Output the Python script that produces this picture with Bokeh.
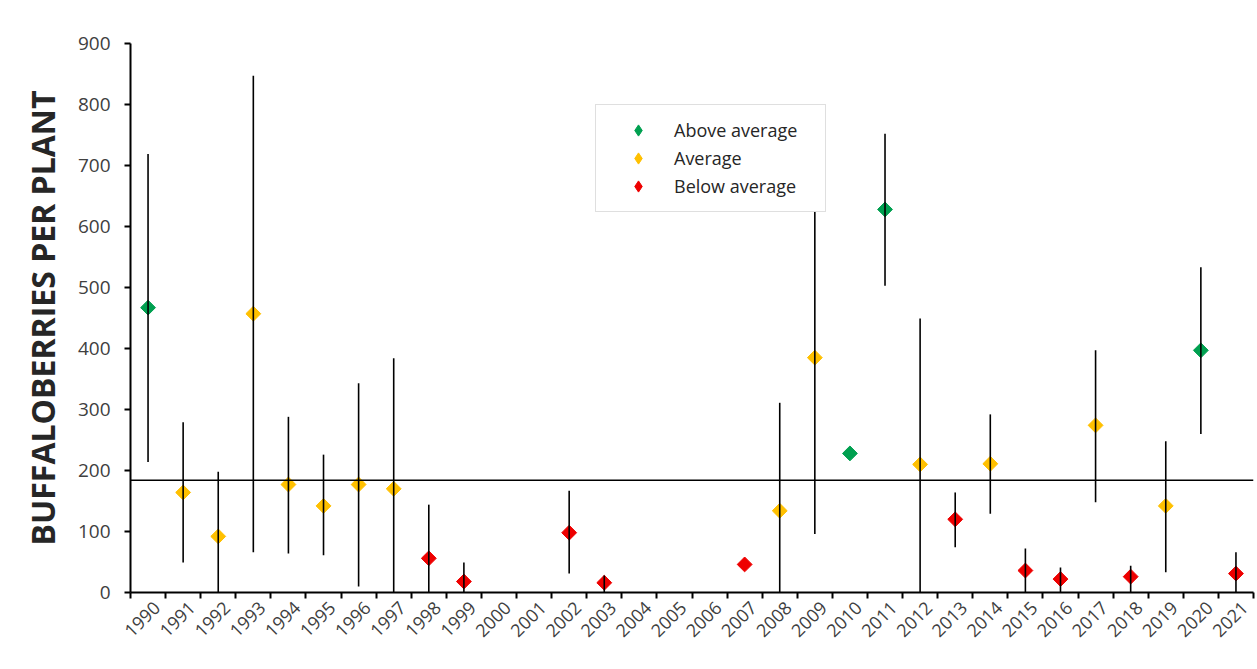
import math
from bokeh.plotting import figure
from bokeh.models import (Range1d, FixedTicker, Span, Legend, LegendItem, ColumnDataSource)
from bokeh.embed import file_html
from bokeh.resources import INLINE

# ---- data ----
all_years = [str(y) for y in range(1990, 2022)]

years  = [1990, 1991, 1992, 1993, 1994, 1995, 1996, 1997, 1998, 1999, 2002, 2003,
          2007, 2008, 2009, 2010, 2011, 2012, 2013, 2014, 2015, 2016, 2017, 2018,
          2019, 2020, 2021]
status = ["A", "M", "M", "M", "M", "M", "M", "M", "B", "B", "B", "B",
          "B", "M", "M", "A", "A", "M", "B", "M", "B", "B", "M", "B",
          "M", "A", "B"]
values = [467, 164, 92, 457, 177, 142, 177, 170, 56, 18, 98, 16,
          46, 134, 385, 228, 628, 210, 120, 211, 36, 22, 274, 26,
          142, 397, 31]
lower  = [214, 49, 0, 66, 64, 61, 10, 0, 0, 0, 31, 0,
          46, 0, 96, 228, 503, 0, 74, 129, 0, 0, 148, 0,
          33, 260, 0]
upper  = [719, 279, 198, 847, 288, 226, 343, 384, 144, 49, 167, 28,
          46, 311, 690, 228, 752, 449, 164, 292, 72, 41, 397, 44,
          248, 533, 66]
average = 184

series_names  = {"A": "Above average", "M": "Average", "B": "Below average"}
series_colors = {"A": "#00A050", "M": "#FFC000", "B": "#EE0000"}

# category centre positions
xpos = [all_years.index(str(y)) + 0.5 for y in years]

FONT = "Open Sans"
NAN = float("nan")

p = figure(width=1255, height=669, output_backend="svg", toolbar_location=None,
           x_range=Range1d(0, len(all_years)), y_range=Range1d(0, 900),
           min_border_left=130, min_border_right=2, min_border_top=43,
           min_border_bottom=77)
p.outline_line_color = None
p.xgrid.visible = False
p.ygrid.visible = False
p.background_fill_color = "white"

# y axis
p.yaxis.ticker = FixedTicker(ticks=list(range(0, 901, 100)))
p.yaxis.axis_line_color = "black"
p.yaxis.axis_line_width = 2
p.yaxis.major_tick_line_color = "black"
p.yaxis.major_tick_line_width = 2
p.yaxis.major_tick_in = 0
p.yaxis.major_tick_out = 6
p.yaxis.minor_tick_line_color = None
p.yaxis.major_label_text_font = FONT
p.yaxis.major_label_text_font_size = "19px"
p.yaxis.major_label_text_color = "#404040"
p.yaxis.major_label_standoff = 14
p.yaxis.axis_label = "BUFFALOBERRIES PER PLANT"
p.yaxis.axis_label_text_font = FONT
p.yaxis.axis_label_text_font_style = "bold"
p.yaxis.axis_label_text_font_size = "32px"
p.yaxis.axis_label_text_color = "#262626"
p.yaxis.axis_label_standoff = 11

# x axis: labels near category centres, tick marks at category boundaries
label_pos = [i + 0.75 for i in range(len(all_years))]
p.xaxis.ticker = FixedTicker(ticks=label_pos, minor_ticks=list(range(len(all_years) + 1)))
p.xaxis.major_label_overrides = {c: lab for c, lab in zip(label_pos, all_years)}
p.xaxis.major_tick_line_color = None
p.xaxis.major_tick_out = 6
p.xaxis.major_tick_in = 0
p.xaxis.minor_tick_line_color = "black"
p.xaxis.minor_tick_line_width = 2
p.xaxis.minor_tick_out = 6
p.xaxis.minor_tick_in = 0
p.xaxis.axis_line_color = "black"
p.xaxis.axis_line_width = 2
p.xaxis.major_label_orientation = math.pi / 4
p.xaxis.major_label_text_font = FONT
p.xaxis.major_label_text_font_size = "18px"
p.xaxis.major_label_text_color = "#404040"
p.xaxis.major_label_standoff = 6

# average line
p.add_layout(Span(location=average, dimension="width", line_color="black", line_width=1.5))

# markers per series
legend_items = []
for key in ["A", "M", "B"]:
    idx = [i for i, s in enumerate(status) if s == key]
    src = ColumnDataSource(dict(x=[xpos[i] for i in idx], y=[values[i] for i in idx]))
    p.scatter("x", "y", source=src, marker="square", angle=math.pi / 4,
              size=10.5, fill_color=series_colors[key], line_color=series_colors[key])
    # legend symbol (not drawn in the plot area): diamond
    proxy_m = p.scatter(x=[NAN], y=[NAN], marker="diamond", size=14,
                        fill_color=series_colors[key], line_color=series_colors[key])
    legend_items.append(LegendItem(label=series_names[key], renderers=[proxy_m]))

# error bars (drawn over the markers)
p.segment(x0=xpos, y0=lower, x1=xpos, y1=upper, line_color="black", line_width=1.6)

legend = Legend(items=legend_items, location=(465, 380), orientation="vertical",
                padding=11, spacing=0, margin=0,
                glyph_width=62, glyph_height=28, label_height=28,
                label_standoff=5, label_width=140,
                label_text_font=FONT, label_text_font_size="18px",
                label_text_color="#262626",
                border_line_color="#BFBFBF", border_line_width=1,
                background_fill_color="white", background_fill_alpha=1.0)
p.add_layout(legend)

open("out.html", "w").write(file_html(p, INLINE))
